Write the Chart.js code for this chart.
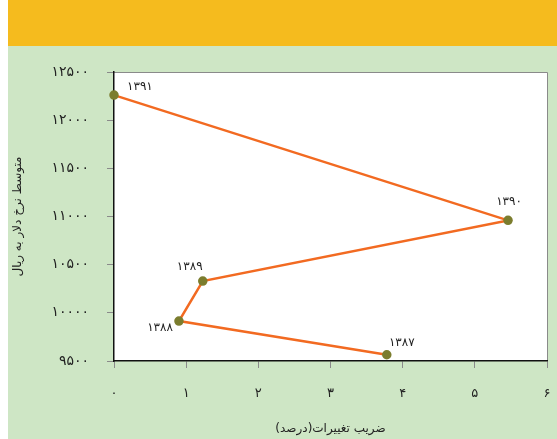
<!DOCTYPE html>
<html>
<head>
<meta charset="utf-8">
<script src="https://cdn.jsdelivr.net/npm/chart.js@4.4.1/dist/chart.umd.min.js"></script>
<style>
  html, body { margin: 0; padding: 0; background: #fff; }
  #wrap { position: relative; width: 557px; height: 439px; }
  #band { position: absolute; left: 8px; top: 0; width: 549px; height: 46px; background: #F5BB1E; }
  #green { position: absolute; left: 8px; top: 46px; width: 549px; height: 393px; background: #CEE6C5; }
  canvas { position: absolute; left: 0; top: 0; }
</style>
</head>
<body>
<div id="wrap">
  <div id="band"></div>
  <div id="green"></div>
  <canvas id="chart" width="557" height="439"></canvas>
</div>
<script>
// data
var years = ['1387', '1388', '1389', '1390', '1391'];
var cvPercent = [3.78, 0.90, 1.23, 5.46, 0.00];     // ضریب تغییرات (درصد)
var dollarRate = [9565, 9915, 10330, 10960, 12260]; // متوسط نرخ دلار به ریال
var xTicks = [0, 1, 2, 3, 4, 5, 6];
var yTicks = [9500, 10000, 10500, 11000, 11500, 12000, 12500];

// year label anchor: [align, dx, dy] relative to the point
var labelPlace = [
  ['center', 15, -12],
  ['right', -6, 7],
  ['center', -13, -14],
  ['center', 1, -18],
  ['left', 13, -8]
];

function fa(s) {
  return String(s).replace(/[0-9]/g, function (d) { return '۰۱۲۳۴۵۶۷۸۹'[d]; });
}

var FONT = 'DejaVu Sans';

var plotBg = {
  id: 'plotBg',
  beforeDraw: function (chart) {
    var a = chart.chartArea, ctx = chart.ctx;
    ctx.save();
    ctx.fillStyle = '#ffffff';
    ctx.fillRect(a.left, a.top, a.right - a.left, a.bottom - a.top);
    ctx.strokeStyle = '#8a8a8a';
    ctx.lineWidth = 1;
    ctx.beginPath();
    ctx.moveTo(a.left, a.top + 0.5); ctx.lineTo(a.right + 0.5, a.top + 0.5);
    ctx.lineTo(a.right + 0.5, a.bottom);
    ctx.stroke();
    ctx.restore();
  }
};

var yearLabels = {
  id: 'yearLabels',
  afterDatasetsDraw: function (chart) {
    var ctx = chart.ctx;
    var meta = chart.getDatasetMeta(0);
    ctx.save();
    ctx.fillStyle = '#222';
    ctx.font = '12px "' + FONT + '"';
    ctx.textBaseline = 'middle';
    meta.data.forEach(function (pt, i) {
      var p = labelPlace[i];
      ctx.textAlign = p[0];
      ctx.fillText(fa(years[i]), pt.x + p[1], pt.y + p[2]);
    });
    ctx.restore();
  }
};

var points = cvPercent.map(function (v, i) { return { x: v, y: dollarRate[i] }; });

new Chart(document.getElementById('chart'), {
  type: 'scatter',
  data: {
    datasets: [{
      data: points,
      showLine: true,
      borderColor: '#F26A21',
      borderWidth: 2.5,
      pointBackgroundColor: '#7B7D2E',
      pointBorderColor: '#7B7D2E',
      pointRadius: 3.5,
      clip: false
    }]
  },
  options: {
    responsive: false,
    animation: false,
    layout: { padding: { top: 72, right: 10, left: 0, bottom: 0 } },
    plugins: { legend: { display: false }, tooltip: { enabled: false } },
    scales: {
      x: {
        type: 'linear',
        min: 0, max: 6,
        afterBuildTicks: function (s) { s.ticks = xTicks.map(function (v) { return { value: v }; }); },
        afterFit: function (s) { s.height = 78; s.paddingLeft = 0; s.paddingRight = 0; },
        grid: { drawOnChartArea: false, tickLength: 7, color: '#8a8a8a' },
        border: { color: '#111', width: 1.5 },
        ticks: {
          padding: 18,
          color: '#222',
          font: { family: FONT, size: 13 },
          maxRotation: 0,
          callback: function (v) { return fa(v); }
        },
        title: {
          display: true,
          text: 'ضریب تغییرات(درصد)',
          color: '#222',
          font: { family: FONT, size: 12 },
          padding: { top: 0, bottom: 3 }
        }
      },
      y: {
        type: 'linear',
        min: 9500, max: 12500,
        afterBuildTicks: function (s) { s.ticks = yTicks.map(function (v) { return { value: v }; }); },
        afterFit: function (s) { s.width = 114; },
        grid: { drawOnChartArea: false, tickLength: 7, color: '#8a8a8a' },
        border: { color: '#111', width: 1.5 },
        ticks: {
          padding: 18,
          color: '#222',
          font: { family: FONT, size: 14 },
          callback: function (v) { return fa(v); }
        },
        title: {
          display: true,
          text: 'متوسط نرخ دلار به ریال',
          color: '#222',
          font: { family: FONT, size: 12 },
          padding: { top: 11, bottom: 0 }
        }
      }
    }
  },
  plugins: [plotBg, yearLabels]
});
</script>
</body>
</html>
